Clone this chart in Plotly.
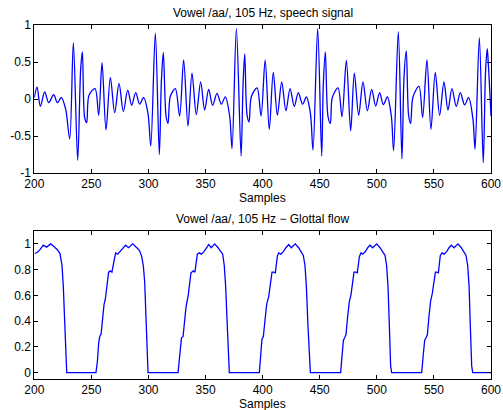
import plotly.graph_objects as go

# ---- data ----
speech_x = [200.0, 202.4, 205.3, 209.1, 212.6, 217.0, 220.2, 223.7, 227.5, 231.0,
            234.2, 238.0, 240.6, 242.1, 244.1, 245.9, 247.9, 253.2, 256.4, 259.3,
            262.8, 266.6, 270.4, 274.2, 278.0, 281.8, 285.3, 288.8, 292.3, 295.8,
            299.6, 302.0, 306.0, 309.5, 311.3, 313.0, 315.4, 317.1, 319.2, 323.5,
            327.3, 330.8, 334.6, 338.1, 341.9, 345.7, 349.2, 352.7, 356.2, 360.0,
            363.8, 367.3, 371.1, 373.2, 377.0, 381.1, 382.8, 384.3, 386.3, 388.1,
            390.1, 395.1, 398.6, 402.2, 405.8, 409.3, 412.9, 416.7, 420.4, 424.0,
            427.7, 431.2, 435.0, 438.3, 441.8, 444.1, 448.2, 451.7, 453.1, 454.9,
            457.2, 459.3, 461.0, 466.0, 469.5, 473.3, 477.1, 480.3, 484.1, 487.9,
            491.7, 495.5, 499.0, 502.5, 505.7, 509.2, 512.7, 514.7, 518.8, 522.0,
            523.8, 525.8, 527.9, 529.6, 531.7, 536.9, 540.1, 543.9, 547.4, 551.2,
            555.0, 558.8, 562.3, 565.8, 569.6, 573.1, 576.9, 580.4, 584.2, 586.0,
            589.8, 593.2, 595.2, 596.7, 597.6, 600.0]
speech_y = [0.02, 0.16, -0.10, 0.095, -0.05, 0.06, -0.05, 0.02, -0.14, -0.54,
            0.76, -0.83, 0.40, 0.635, -0.25, -0.32, 0.05, 0.14, -0.22, 0.49,
            -0.42, 0.29, -0.185, 0.21, -0.17, 0.12, -0.085, 0.085, -0.07, 0.02,
            -0.20, -0.635, 0.89, -0.75, 0.24, 0.63, -0.23, -0.33, 0.04, 0.14,
            -0.23, 0.53, -0.365, 0.35, -0.21, 0.23, -0.15, 0.13, -0.085, 0.077,
            -0.07, 0.03, -0.23, -0.67, 0.95, -0.77, 0.18, 0.61, -0.21, -0.31,
            0.03, 0.15, -0.23, 0.53, -0.41, 0.36, -0.22, 0.23, -0.16, 0.14,
            -0.10, 0.085, -0.07, 0.027, -0.19, -0.69, 0.95, -0.77, 0.18, 0.635,
            -0.23, -0.33, 0.02, 0.15, -0.24, 0.52, -0.43, 0.35, -0.22, 0.23,
            -0.16, 0.13, -0.095, 0.085, -0.077, 0.027, -0.23, -0.70, 0.91, -0.81,
            0.29, 0.65, -0.23, -0.33, 0.03, 0.17, -0.25, 0.53, -0.41, 0.36,
            -0.22, 0.23, -0.15, 0.14, -0.10, 0.085, -0.08, 0.02, -0.275, -0.68,
            0.83, -0.86, 0.36, 0.68, 0.49, -0.23]

flow_x = [200.3, 202.7, 205.0, 207.9, 210.8, 214.3, 217.2, 220.2, 222.5, 224.3,
          225.4, 226.6, 227.8, 228.4, 254.0, 255.3, 256.4, 257.3, 258.5, 259.9,
          261.1, 262.2, 263.4, 265.1, 266.6, 268.0, 269.8, 271.3, 273.0, 275.1,
          277.4, 280.0, 282.6, 286.2, 289.1, 292.0, 294.0, 295.5, 296.7, 297.8,
          298.7, 299.6, 325.9, 327.3, 328.9, 330.3, 332.9, 334.9, 337.2, 339.3,
          340.7, 342.8, 344.5, 346.3, 348.6, 351.0, 352.7, 355.0, 358.0, 360.9,
          363.2, 365.0, 366.4, 367.6, 368.8, 369.9, 370.8, 397.1, 398.3, 399.4,
          400.6, 402.1, 403.5, 405.3, 407.0, 408.2, 409.6, 411.1, 412.9, 414.0,
          415.8, 418.1, 420.4, 422.8, 425.1, 428.6, 431.5, 433.9, 435.6, 437.1,
          438.3, 439.7, 440.9, 441.8, 468.3, 469.5, 470.7, 471.8, 473.0, 474.5,
          475.9, 477.4, 478.9, 480.0, 481.8, 482.9, 484.7, 486.2, 487.6, 490.0,
          492.0, 494.0, 496.4, 499.9, 502.8, 505.1, 507.2, 508.6, 509.8, 511.0,
          512.1, 513.0, 539.3, 540.8, 541.9, 543.1, 544.3, 545.7, 547.2, 548.6,
          550.1, 551.3, 552.4, 553.9, 555.6, 557.1, 558.9, 561.2, 563.2, 565.3,
          567.6, 571.1, 574.0, 576.4, 578.1, 579.6, 580.8, 581.9, 583.1, 584.0,
          600.0]
flow_y = [0.925, 0.935, 0.955, 0.99, 0.975, 1.0, 0.98, 0.955, 0.925, 0.83,
          0.67, 0.41, 0.10, 0.0, 0.0, 0.09, 0.23, 0.28, 0.30, 0.44,
          0.53, 0.57, 0.66, 0.78, 0.79, 0.78, 0.865, 0.93, 0.92, 0.94,
          0.96, 0.99, 0.97, 1.0, 0.975, 0.95, 0.905, 0.83, 0.70, 0.44,
          0.15, 0.0, 0.0, 0.15, 0.27, 0.28, 0.51, 0.605, 0.775, 0.79,
          0.78, 0.92, 0.93, 0.92, 0.94, 0.97, 0.995, 0.97, 1.0, 0.97,
          0.94, 0.92, 0.83, 0.67, 0.41, 0.13, 0.0, 0.0, 0.13, 0.26,
          0.28, 0.41, 0.53, 0.59, 0.70, 0.78, 0.78, 0.775, 0.905, 0.93,
          0.92, 0.94, 0.97, 0.995, 0.97, 1.0, 0.97, 0.94, 0.91, 0.83,
          0.67, 0.36, 0.075, 0.0, 0.0, 0.10, 0.25, 0.27, 0.295, 0.44,
          0.55, 0.605, 0.70, 0.78, 0.78, 0.775, 0.90, 0.93, 0.92, 0.94,
          0.97, 0.99, 0.97, 1.0, 0.97, 0.94, 0.91, 0.83, 0.67, 0.36,
          0.05, 0.0, 0.0, 0.15, 0.25, 0.27, 0.295, 0.44, 0.56, 0.615,
          0.70, 0.78, 0.78, 0.775, 0.91, 0.93, 0.92, 0.94, 0.97, 0.99,
          0.97, 1.0, 0.97, 0.94, 0.91, 0.83, 0.67, 0.36, 0.05, 0.0,
          0.0]

x_ticks = [200, 250, 300, 350, 400, 450, 500, 550, 600]
top_yticks = [-1, -0.5, 0, 0.5, 1]
top_ytext = ["-1", "-0.5", "0", "0.5", "1"]
bot_yticks = [0, 0.2, 0.4, 0.6, 0.8, 1]
bot_ytext = ["0", "0.2", "0.4", "0.6", "0.8", "1"]

title_top = "Vowel /aa/, 105 Hz, speech signal"
title_bot = "Vowel /aa/, 105 Hz \u2212 Glottal flow"
xlabel = "Samples"

W, H = 503, 410
FONT = "Liberation Sans, Arial, Helvetica, sans-serif"
FS = 12
BLUE = "#0000ff"

fig = go.Figure()
fig.add_trace(go.Scatter(x=speech_x, y=speech_y, mode="lines",
                         line=dict(color=BLUE, width=1.3, shape="spline", smoothing=0.9),
                         xaxis="x", yaxis="y", showlegend=False))
fig.add_trace(go.Scatter(x=flow_x, y=flow_y, mode="lines",
                         line=dict(color=BLUE, width=1.3),
                         xaxis="x2", yaxis="y2", showlegend=False))

xd = [34.3 / W, 491.0 / W]
axis_common = dict(showline=True, linecolor="black", linewidth=1, mirror="allticks",
                   ticks="inside", ticklen=4, tickcolor="black", tickwidth=1,
                   showgrid=False, zeroline=False, automargin=False,
                   tickfont=dict(family=FONT, size=FS, color="black"))

fig.update_layout(
    width=W, height=H,
    margin=dict(l=0, r=0, t=0, b=0, autoexpand=False),
    paper_bgcolor="white", plot_bgcolor="white",
    xaxis=dict(domain=xd, range=[200, 600], tickvals=x_ticks, anchor="y", **axis_common),
    yaxis=dict(domain=[1 - 173 / H, 1 - 25 / H], range=[-1, 1], tickvals=top_yticks,
               ticktext=top_ytext, anchor="x", **axis_common),
    xaxis2=dict(domain=xd, range=[200, 600], tickvals=x_ticks, anchor="y2", **axis_common),
    yaxis2=dict(domain=[1 - 379 / H, 1 - 231 / H], range=[-0.05, 1.1], tickvals=bot_yticks,
                ticktext=bot_ytext, anchor="x2", **axis_common),
    annotations=[
        dict(text=title_top, x=(xd[0] + xd[1]) / 2, y=1 - 13 / H, xref="paper", yref="paper",
             showarrow=False, font=dict(family=FONT, size=FS, color="black"),
             xanchor="center", yanchor="middle"),
        dict(text=xlabel, x=(xd[0] + xd[1]) / 2, y=1 - 198 / H, xref="paper", yref="paper",
             showarrow=False, font=dict(family=FONT, size=FS, color="black"),
             xanchor="center", yanchor="middle"),
        dict(text=title_bot, x=(xd[0] + xd[1]) / 2, y=1 - 219 / H, xref="paper", yref="paper",
             showarrow=False, font=dict(family=FONT, size=FS, color="black"),
             xanchor="center", yanchor="middle"),
        dict(text=xlabel, x=(xd[0] + xd[1]) / 2, y=1 - 404 / H, xref="paper", yref="paper",
             showarrow=False, font=dict(family=FONT, size=FS, color="black"),
             xanchor="center", yanchor="middle"),
    ],
)

fig.write_html("out.html")
